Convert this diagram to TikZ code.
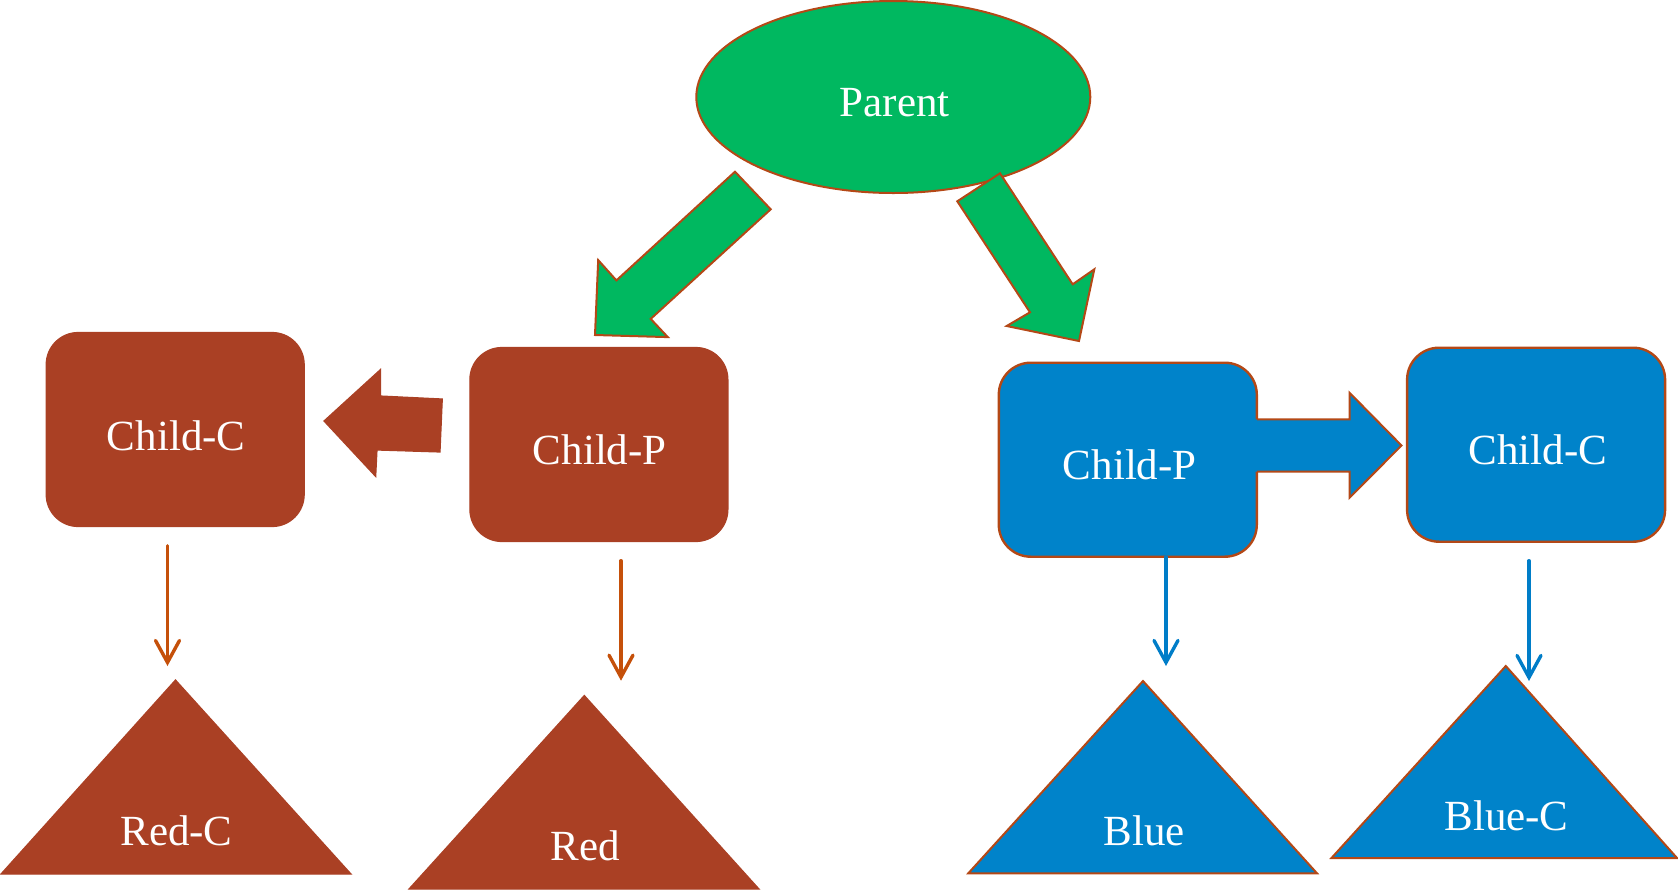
\documentclass[tikz,border=0pt]{standalone}
\usepackage{fontspec}
\setmainfont{Liberation Serif}
\usetikzlibrary{arrows.meta,shapes.geometric}
\definecolor{rust}{RGB}{170,64,36}
\definecolor{outl}{RGB}{180,72,22}
\definecolor{grn}{RGB}{0,184,96}
\definecolor{blu}{RGB}{0,131,202}
\definecolor{redline}{RGB}{197,80,10}
\definecolor{bluline}{RGB}{0,125,200}
\begin{document}
\begin{tikzpicture}[x=0.5pt,y=-0.5pt,
  lbl/.style={text=white,font=\fontsize{21.5}{25}\selectfont,anchor=base,inner sep=0pt},
  box/.style={rectangle,rounded corners=16pt,minimum width=129pt,minimum height=97pt,inner sep=0pt},
  redbox/.style={box,fill=rust,draw=rust,line width=0.6pt},
  bluebox/.style={box,fill=blu,draw=outl,line width=1.2pt},
  blockgreen/.style={fill=grn,draw=outl,line width=1pt},
  blockred/.style={fill=rust,draw=rust,line width=0.6pt},
  trired/.style={fill=rust,draw=rust,line width=0.6pt},
  triblue/.style={fill=blu,draw=outl,line width=1pt},
  thinarrow/.style={line width=1.7pt,line cap=round,-{Straight Barb[length=11pt,width=12pt,line cap=round]}},
]
\useasboundingbox (0,0) rectangle (1678,890);
% parent
\node[ellipse,fill=grn,draw=outl,line width=1pt,minimum width=197pt,minimum height=96pt,inner sep=0pt] (par) at (893.3,97) {};
\node[lbl] (part) at (894.7,116.7) {Parent};
% green block arrows
\path[blockgreen] (735,171.7) -- (770.7,209.3) -- (650.7,318.9) -- (667.8,337.1) -- (595,335) -- (598.2,260.1) -- (616.4,280.4) -- cycle;
\path[blockgreen] (1000,173.3) -- (1072.7,284.3) -- (1094.3,269.3) -- (1079,341) -- (1006.7,326) -- (1030,312.3) -- (957.3,201.3) -- cycle;
% red boxes
\node[redbox] (rcc) at (175.2,429.5) {};
\node[lbl] (rcct) at (176.2,450) {Child-C};
\node[redbox] (rcp) at (598.9,444.5) {};
\node[lbl] (rcpt) at (599.8,464.3) {Child-P};
\path[blockred] (324,421) -- (380.5,369.5) -- (380.5,396) -- (442.3,399) -- (440,452) -- (377,450) -- (375.7,476.5) -- cycle;
% blue boxes
\node[bluebox] (bcp) at (1127.8,459.7) {};
\node[lbl] (bcpt) at (1129.8,479.3) {Child-P};
\node[bluebox] (bcc) at (1536.1,444.7) {};
\node[lbl] (bcct) at (1537.7,464.3) {Child-C};
\fill[blu] (1254,419.3) -- (1349.5,419.3) -- (1349.5,392.7) -- (1401.5,445.5) -- (1349.5,497.7) -- (1349.5,471.5) -- (1254,471.5) -- cycle;
\draw[outl,line width=1pt,line join=miter] (1257,419.3) -- (1349.5,419.3) -- (1349.5,392.7) -- (1401.5,445.5) -- (1349.5,497.7) -- (1349.5,471.5) -- (1257,471.5);
% triangles
\path[trired] (175.5,680) -- (351,874) -- (1,874) -- cycle;
\node[lbl] (redc) at (176.5,845) {Red-C};
\path[trired] (584.3,695.5) -- (759,889) -- (409,889) -- cycle;
\node[lbl] (red) at (585,860) {Red};
\path[triblue] (1143,681) -- (1317,873.3) -- (968.3,873.3) -- cycle;
\node[lbl] (blue) at (1144.3,845) {Blue};
\path[triblue] (1505.8,666) -- (1677,858) -- (1331.5,858) -- cycle;
\node[lbl] (bluec) at (1506.5,830) {Blue-C};
% thin arrows
\coordinate (s1) at (167.5,545.7); \coordinate (e1) at (167.5,666);
\coordinate (s2) at (621,560.7);   \coordinate (e2) at (621,680.7);
\coordinate (s3) at (1166,557);    \coordinate (e3) at (1166,666);
\coordinate (s4) at (1529,560.7);  \coordinate (e4) at (1529,681);
\draw[thinarrow,redline] (s1) -- (e1);
\draw[thinarrow,redline] (s2) -- (e2);
\draw[thinarrow,bluline] (s3) -- (e3);
\draw[thinarrow,bluline] (s4) -- (e4);
\end{tikzpicture}
\end{document}
